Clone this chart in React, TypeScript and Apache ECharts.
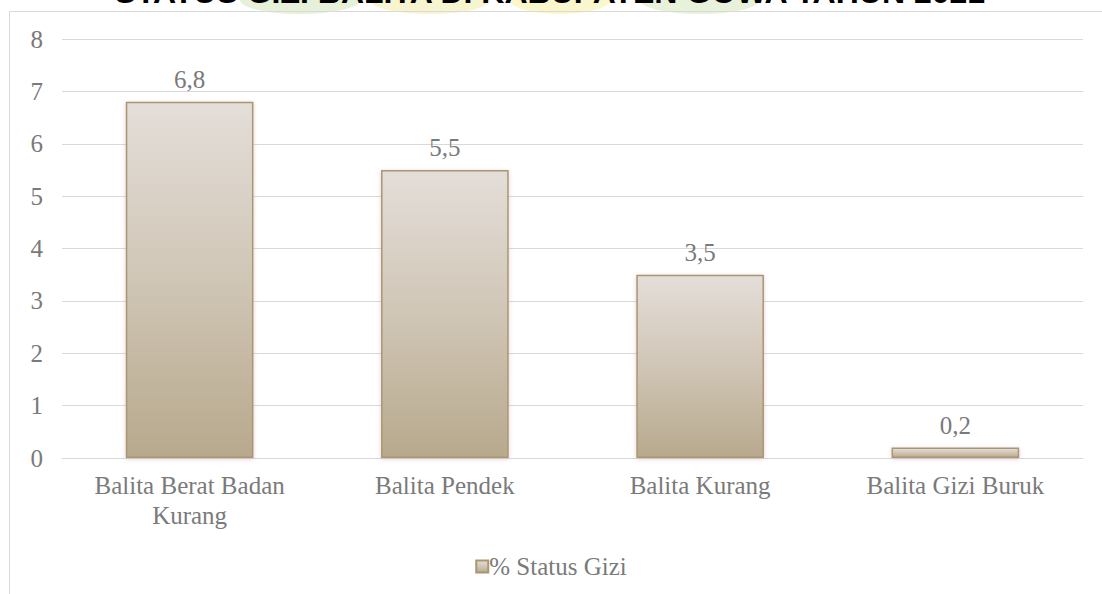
import React, { useEffect, useRef } from "react";
import * as echarts from "echarts";

const categories = ["Balita Berat Badan\nKurang", "Balita Pendek", "Balita Kurang", "Balita Gizi Buruk"];
const values = [6.8, 5.5, 3.5, 0.2];
const seriesName = "% Status Gizi";
const titleText = "STATUS GIZI BALITA DI KABUPATEN GOWA TAHUN 2021";

const FONT = "'Times New Roman', 'Liberation Serif', 'DejaVu Serif', serif";
const TXT = "#7a7a7a";

export default function App() {
  const ref = useRef<HTMLDivElement>(null);
  useEffect(() => {
    document.body.style.margin = "0";
    const chart = echarts.init(ref.current!, null, { renderer: "svg" });
    const barGrad = new echarts.graphic.LinearGradient(0, 0, 0, 1, [
      { offset: 0, color: "#e4ded9" },
      { offset: 0.5, color: "#d0c6b6" },
      { offset: 1, color: "#b8a98d" },
    ]);
    chart.setOption({
      animation: false,
      backgroundColor: "#ffffff",
      graphic: [
        { type: "ellipse", shape: { cx: 300, cy: 0, rx: 60, ry: 14 }, style: { fill: "#d7e6c0", opacity: 0.6 }, z: 0 },
        { type: "ellipse", shape: { cx: 430, cy: 0, rx: 60, ry: 14 }, style: { fill: "#f1efb0", opacity: 0.6 }, z: 0 },
        { type: "ellipse", shape: { cx: 560, cy: 0, rx: 50, ry: 14 }, style: { fill: "#f5f2a8", opacity: 0.6 }, z: 0 },
        { type: "ellipse", shape: { cx: 700, cy: 0, rx: 60, ry: 14 }, style: { fill: "#d9e7c2", opacity: 0.6 }, z: 0 },
        {
          type: "text",
          left: "center",
          top: -24,
          style: { text: titleText, font: "bold 32px 'Liberation Sans', Arial, sans-serif", fill: "#000000" },
          z: 10,
        },
        {
          type: "polyline",
          shape: { points: [[9.5, 594], [9.5, 11.5], [1102, 11.5]] },
          style: { stroke: "#d9d9d9", lineWidth: 1, fill: "none" },
          z: 5,
        },
      ],
      legend: {
        data: [seriesName],
        bottom: 10,
        left: "center",
        itemWidth: 12,
        itemHeight: 12,
        icon: "rect",
        itemGap: 4,
        textStyle: { fontFamily: FONT, fontSize: 25, color: TXT, padding: [0, 0, 0, -4] },
      },
      grid: { left: 62, right: 19, top: 39, bottom: 136 },
      xAxis: {
        type: "category",
        data: categories,
        axisLine: { show: true, lineStyle: { color: "#d9d9d9" } },
        axisTick: { show: false },
        axisLabel: { fontFamily: FONT, fontSize: 25, color: TXT, margin: 12, lineHeight: 30 },
      },
      yAxis: {
        type: "value",
        min: 0,
        max: 8,
        interval: 1,
        axisLine: { show: false },
        axisTick: { show: false },
        splitLine: { lineStyle: { color: "#d9d9d9" } },
        axisLabel: { fontFamily: FONT, fontSize: 25, color: TXT, margin: 19 },
      },
      series: [
        {
          name: seriesName,
          type: "bar",
          data: values,
          barWidth: "50%",
          itemStyle: {
            color: barGrad,
            borderColor: "#a89870",
            borderWidth: 1.5,
            shadowColor: "rgba(200,140,160,0.45)",
            shadowBlur: 4,
            shadowOffsetX: 0,
            shadowOffsetY: 1,
          },
          label: {
            show: true,
            position: "top",
            distance: 10,
            fontFamily: FONT,
            fontSize: 25,
            color: TXT,
            formatter: (p: any) => String(p.value).replace(".", ","),
          },
        },
      ],
    });
    return () => chart.dispose();
  }, []);
  return <div ref={ref} style={{ width: 1102, height: 594 }} />;
}
